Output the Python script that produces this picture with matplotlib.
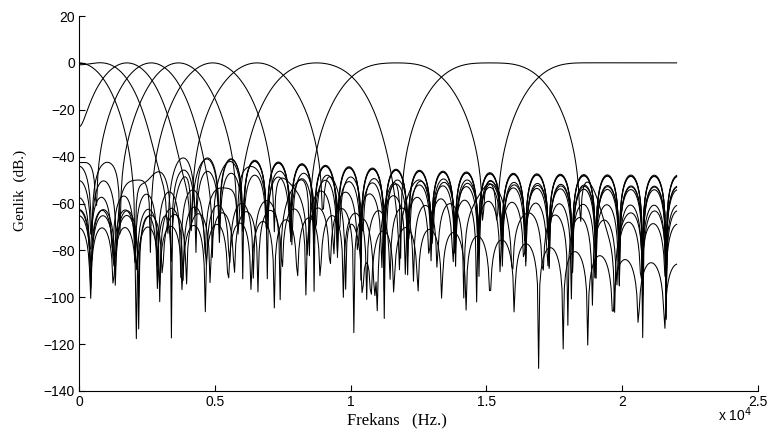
import numpy as np
import matplotlib
matplotlib.use("Agg")
import matplotlib.pyplot as plt
from matplotlib.ticker import FuncFormatter

# filter bank: sampling rate, FIR length, band edges (Hz)
fs = 44100
n_taps = 51
band_edges = [442, 1327, 2190, 3110, 4215, 5635, 7475, 10030, 13345, 16940]
n_points = 512


def fir_band(f1, f2):
    # windowed-sinc design, f1=None -> lowpass, f2=None -> highpass
    n = np.arange(n_taps) - (n_taps - 1) / 2
    hi = 1.0 if f2 is None else 2 * f2 / fs
    lo = 0.0 if f1 is None else 2 * f1 / fs
    h = hi * np.sinc(hi * n) - lo * np.sinc(lo * n)
    h *= np.hamming(n_taps)
    if f1 is None:
        fc = 0.0
    elif f2 is None:
        fc = fs / 2
    else:
        fc = (f1 + f2) / 2
    g = abs(np.sum(h * np.exp(-2j * np.pi * fc / fs * n)))
    return h / g


def response(h):
    f = np.arange(n_points) * (fs / 2) / n_points
    n = np.arange(n_taps)
    H = np.exp(-2j * np.pi * np.outer(f, n) / fs) @ h
    return f, 20 * np.log10(np.abs(H) + 1e-12)


lows = [None] + band_edges
highs = band_edges + [None]

fig = plt.figure(figsize=(7.71, 4.33), dpi=100)
ax = fig.add_axes([0.1025, 0.097, 0.8805, 0.866])

for f1, f2 in zip(lows, highs):
    f, db = response(fir_band(f1, f2))
    ax.plot(f, db, color='black', lw=0.75)

ax.set_xlim(0, 25000)
ax.set_ylim(-140, 20)
ax.set_xticks(np.arange(0, 25001, 5000))
ax.set_yticks(np.arange(-140, 21, 20))
ax.xaxis.set_major_formatter(FuncFormatter(lambda v, p: '%g' % (v / 1e4)))
ax.tick_params(direction='in', length=4, labelsize=10, colors='black', pad=3)
for lab in ax.get_xticklabels() + ax.get_yticklabels():
    lab.set_family('Liberation Sans')
ax.spines['top'].set_visible(False)
ax.spines['right'].set_visible(False)

ax.set_xlabel('Frekans   (Hz.)', family='Liberation Serif', fontsize=12)
ax.xaxis.set_label_coords(0.468, -0.058, transform=ax.transAxes)
ax.xaxis.label.set_va('top')
ax.set_ylabel('Genlik  (dB.)', family='Liberation Serif', fontsize=11)
ax.yaxis.set_label_coords(-0.077, 0.536)
fig.text(0.931, 0.028, r'x 10$^4$', family='Liberation Sans', fontsize=10)

fig.savefig('out.png', dpi=100)
